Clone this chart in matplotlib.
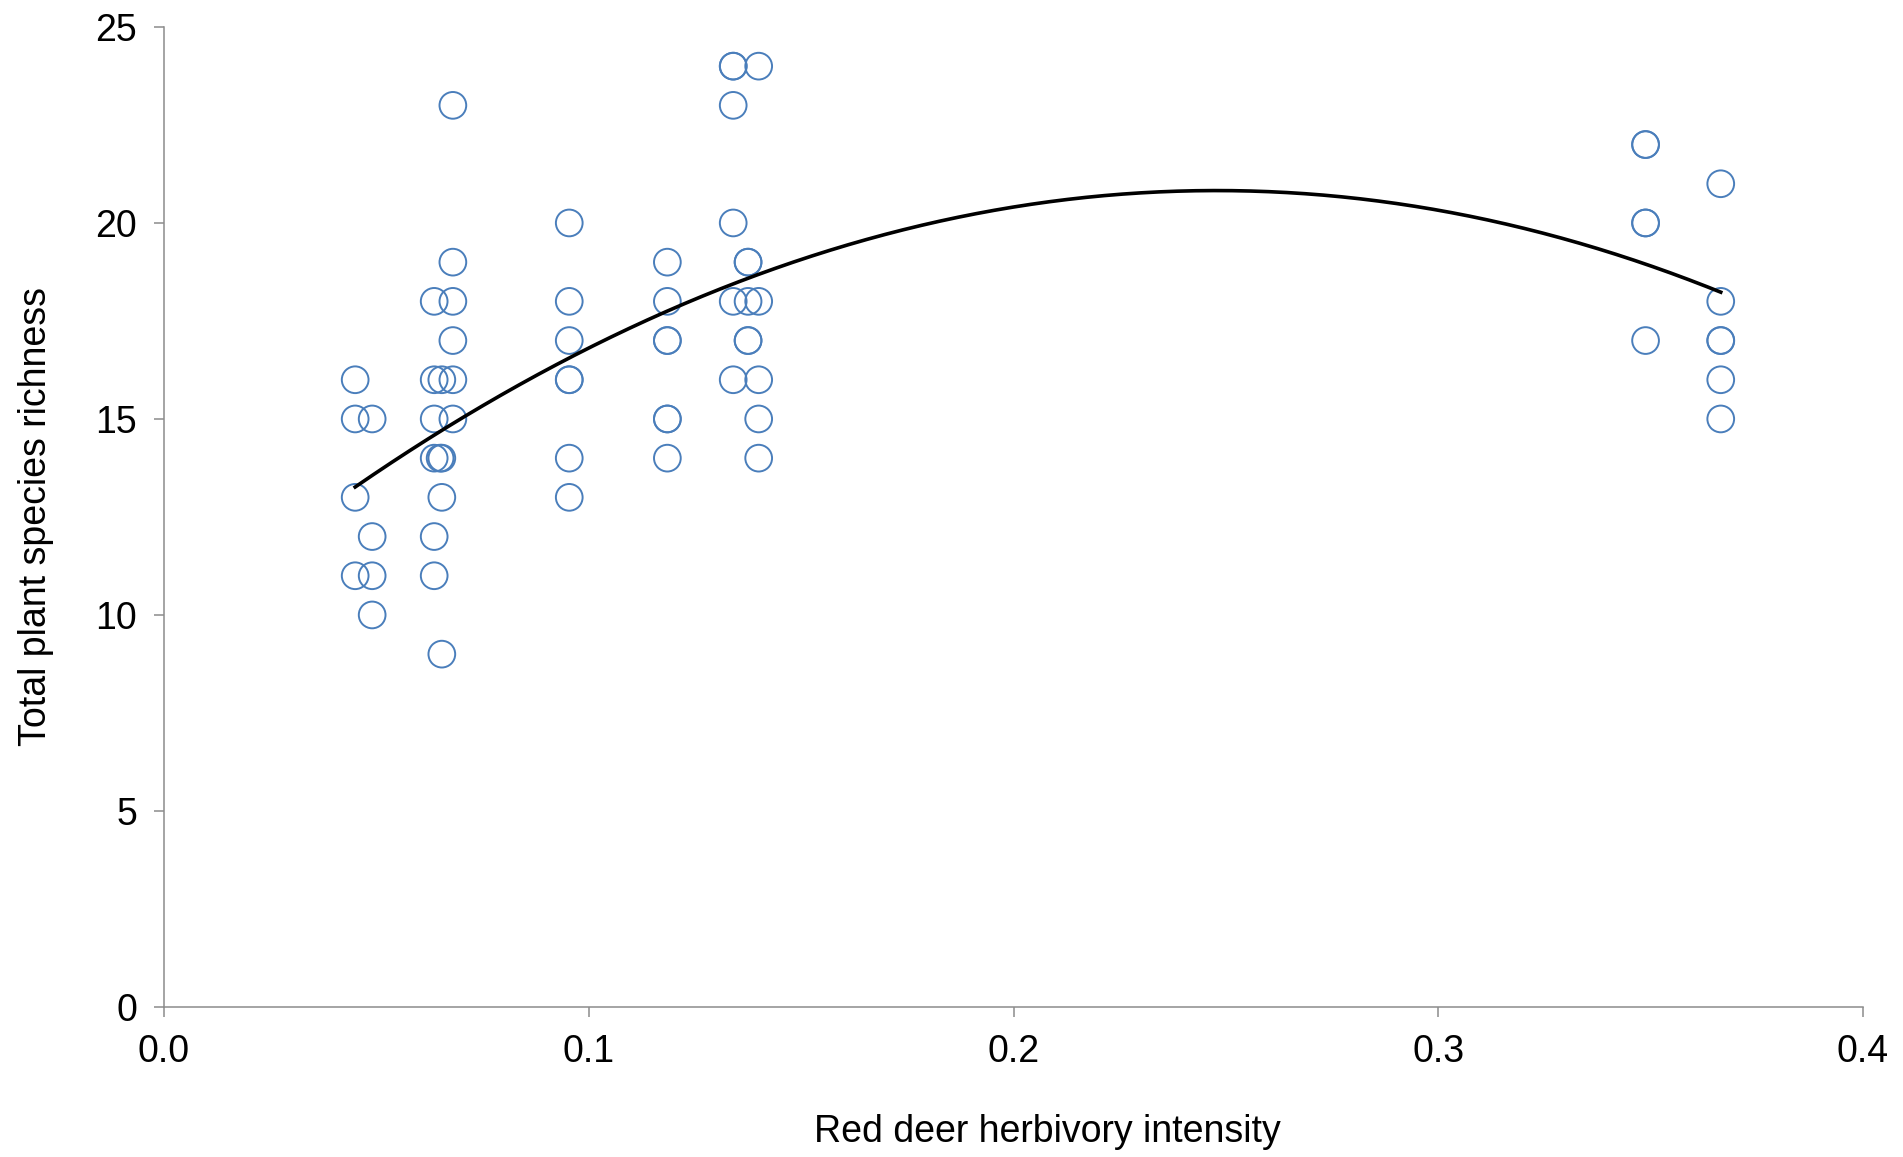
import numpy as np
import matplotlib
matplotlib.use("Agg")
import matplotlib.pyplot as plt

plt.rcParams['font.family'] = ['Liberation Sans', 'DejaVu Sans']

# Data
herbivory = [
    0.045, 0.045, 0.049, 0.045, 0.049, 0.045, 0.049, 0.049,
    0.068, 0.068, 0.0636, 0.068, 0.068, 0.0636, 0.0654, 0.068, 0.0636, 0.068,
    0.0636, 0.0650, 0.0654, 0.0654, 0.0636, 0.0636, 0.0654,
    0.0954, 0.0954, 0.0954, 0.0954, 0.0954, 0.0954, 0.0954,
    0.1185, 0.1185, 0.1185, 0.1185, 0.1185, 0.1185, 0.1185,
    0.134, 0.134, 0.140, 0.134, 0.134, 0.1375, 0.1375, 0.134, 0.1375, 0.140,
    0.1375, 0.1375, 0.134, 0.140, 0.140, 0.140,
    0.3488, 0.3488, 0.3488, 0.3488, 0.3488,
    0.3665, 0.3665, 0.3665, 0.3665, 0.3665, 0.3665,
]
richness = [
    16, 15, 15, 13, 12, 11, 11, 10,
    23, 19, 18, 18, 17, 16, 16, 16, 15, 15,
    14, 14, 14, 13, 12, 11, 9,
    20, 18, 17, 16, 16, 14, 13,
    19, 18, 17, 17, 15, 15, 14,
    24, 24, 24, 23, 20, 19, 19, 18, 18, 18,
    17, 17, 16, 16, 15, 14,
    22, 22, 20, 20, 17,
    21, 18, 17, 17, 16, 15,
]
x_ticks = [0.0, 0.1, 0.2, 0.3, 0.4]
y_ticks = [0, 5, 10, 15, 20, 25]

x = np.array(herbivory)
y = np.array(richness)

fig = plt.figure(figsize=(19.03, 11.57), dpi=100)
ax = fig.add_axes([0.0862, 0.1297, 0.8928, 0.847])

ax.scatter(x, y, s=370, facecolors='none', edgecolors='#4a7ebb', linewidths=1.4, zorder=2)

coef = np.polyfit(x, y, 2)
xs = np.linspace(x.min(), x.max(), 300)
ax.plot(xs, np.polyval(coef, xs), color='black', lw=2.6, zorder=3)

ax.set_xlim(0, 0.4)
ax.set_ylim(0, 25)
ax.set_xticks(x_ticks)
ax.set_xticklabels([f"{t:.1f}" for t in x_ticks])
ax.set_yticks(y_ticks)

for side in ['top', 'right']:
    ax.spines[side].set_visible(False)
for side in ['left', 'bottom']:
    ax.spines[side].set_color('#8c8c8c')
    ax.spines[side].set_linewidth(1.1)

ax.tick_params(axis='both', direction='out', length=7.5, width=1.1, color='#8c8c8c',
               labelsize=27, pad=12, labelcolor='black')

ax.set_xlabel('Red deer herbivory intensity', fontsize=27, va='center')
ax.xaxis.set_label_coords(0.52, -0.1275)
ax.set_ylabel('Total plant species richness', fontsize=27, labelpad=30)

fig.savefig('out.png', dpi=100)
